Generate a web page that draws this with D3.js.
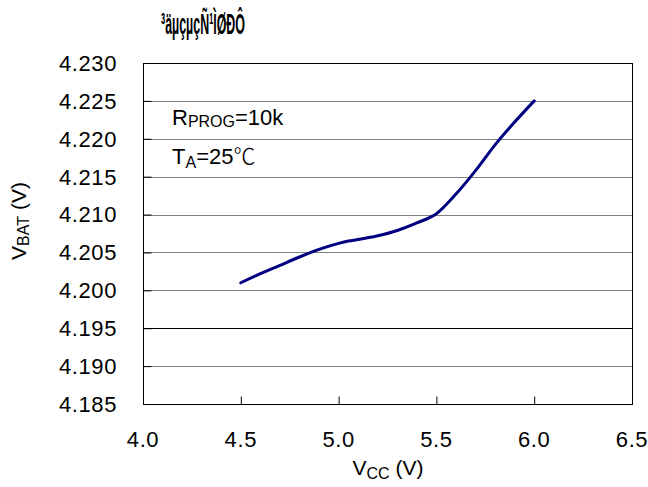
<!DOCTYPE html>
<html>
<head>
<meta charset="utf-8">
<script src="https://cdn.jsdelivr.net/npm/d3@7"></script>
<style>
  body { margin: 0; background: #fff; }
  text { font-family: "Liberation Sans", Arial, sans-serif; fill: #000; }
</style>
</head>
<body>
<div id="chart"></div>
<script>
// data
var vcc  = [4.5, 4.6, 4.7, 4.8, 4.9, 5.0, 5.05, 5.1, 5.2, 5.3, 5.4, 5.5, 5.6, 5.7, 5.8, 5.9, 6.0];
var vbat = [4.201, 4.2022, 4.2033, 4.2044, 4.2054, 4.2062, 4.2065, 4.2067, 4.2072, 4.2079, 4.2089, 4.2101, 4.2127, 4.2158, 4.2192, 4.2222, 4.225];
var xTicks = [4.0, 4.5, 5.0, 5.5, 6.0, 6.5];
var yTicks = [4.185, 4.190, 4.195, 4.200, 4.205, 4.210, 4.215, 4.220, 4.225, 4.230];
var titleText = "³äµçµçÑ¹ÌØÐÔ";

var width = 648, height = 487;
var margin = {top: 63, right: 16, bottom: 83, left: 143};

var svg = d3.select("#chart").append("svg")
    .attr("width", width)
    .attr("height", height);

var x = d3.scaleLinear().domain([4.0, 6.5]).range([margin.left, width - margin.right]);
var y = d3.scaleLinear().domain([4.185, 4.230]).range([height - margin.bottom, margin.top]);

// horizontal gridlines
svg.append("g")
  .selectAll("line")
  .data(yTicks.slice(1, -1))
  .enter().append("line")
    .attr("x1", x(4.0)).attr("x2", x(6.5))
    .attr("y1", function(d) { return Math.round(y(d)) + 0.5; })
    .attr("y2", function(d) { return Math.round(y(d)) + 0.5; })
    .attr("stroke", function(d) { return d == 4.195 ? "#000" : "#808080"; })
    .attr("stroke-width", 1);

// left axis, inward ticks
var yAxis = svg.append("g")
  .attr("transform", "translate(" + (x(4.0) + 0.5) + ",0)")
  .call(d3.axisRight(y).tickValues(yTicks).tickSize(8).tickFormat(""));
yAxis.select(".domain").remove();
yAxis.selectAll("line").attr("stroke", "#000");

// bottom axis, inward ticks
var xAxis = svg.append("g")
  .attr("transform", "translate(0," + (y(4.185) + 0.5) + ")")
  .call(d3.axisTop(x).tickValues(xTicks).tickSize(8).tickFormat(""));
xAxis.select(".domain").remove();
xAxis.selectAll("line").attr("stroke", "#000");

// frame
svg.append("rect")
  .attr("x", x(4.0) + 0.5).attr("y", y(4.230) + 0.5)
  .attr("width", x(6.5) - x(4.0)).attr("height", y(4.185) - y(4.230))
  .attr("fill", "none").attr("stroke", "#000");

// tick labels
svg.append("g").selectAll("text")
  .data(yTicks)
  .enter().append("text")
    .attr("x", 117)
    .attr("y", function(d) { return y(d); })
    .attr("dy", "0.36em")
    .attr("text-anchor", "end")
    .style("font-size", "22px")
    .style("letter-spacing", "0.6px")
    .text(function(d) { return d3.format(".3f")(d); });

svg.append("g").selectAll("text")
  .data(xTicks)
  .enter().append("text")
    .attr("x", function(d) { return x(d); })
    .attr("y", 447)
    .attr("text-anchor", "middle")
    .style("font-size", "22px")
    .style("letter-spacing", "0.6px")
    .text(function(d) { return d3.format(".1f")(d); });

// axis titles
var xt = svg.append("text")
  .attr("x", 388).attr("y", 475)
  .attr("text-anchor", "middle")
  .style("font-size", "21px");
xt.append("tspan").text("V");
xt.append("tspan").attr("dy", 4).style("font-size", "16px").text("CC");
xt.append("tspan").attr("dy", -4).text(" (V)");

var yt = svg.append("text")
  .attr("transform", "translate(26,221) rotate(-90)")
  .attr("text-anchor", "middle")
  .style("font-size", "21px");
yt.append("tspan").text("V");
yt.append("tspan").attr("dy", 3).style("font-size", "16px").text("BAT");
yt.append("tspan").attr("dy", -3).text(" (V)");

// annotations
var a1 = svg.append("text").attr("x", 172).attr("y", 125).style("font-size", "22px");
a1.append("tspan").text("R");
a1.append("tspan").attr("dy", 2).style("font-size", "16px").text("PROG");
a1.append("tspan").attr("dy", -2).text("=10k");

var a2 = svg.append("text").attr("x", 172).attr("y", 164).style("font-size", "22px");
a2.append("tspan").text("T");
a2.append("tspan").attr("dy", 4).style("font-size", "16px").text("A");
a2.append("tspan").attr("dy", -4).text("=25");
a2.append("tspan").style("font-family", "'Noto Sans CJK SC'").style("font-weight", "300").text("℃");

// title (garbled as in the source)
svg.append("text")
  .attr("x", 161).attr("y", 34)
  .attr("textLength", 84)
  .attr("lengthAdjust", "spacingAndGlyphs")
  .style("font-size", "30px")
  .style("font-weight", "bold")
  .text(titleText);

// curve
var line = d3.line()
  .x(function(d, i) { return x(vcc[i]); })
  .y(function(d) { return y(d); })
  .curve(d3.curveMonotoneX);

svg.append("path")
  .datum(vbat)
  .attr("d", line)
  .attr("fill", "none")
  .attr("stroke", "#000080")
  .attr("stroke-width", 3)
  .attr("stroke-linecap", "round");
</script>
</body>
</html>
